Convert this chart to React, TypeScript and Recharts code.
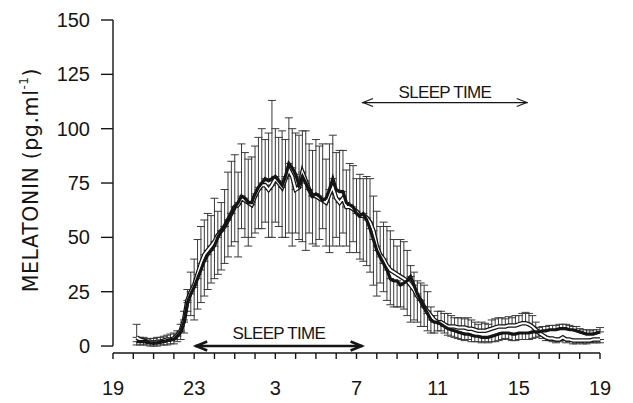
import React from "react";
import { ComposedChart, Line, XAxis, YAxis, ErrorBar, ReferenceLine } from "recharts";

// hours after 19:00, one sample every 10 min starting 20:10
const firstHour = 7 / 6;
const stepHour = 1 / 6;

// filled symbols (thick black line)
const meanFilled = [
  2, 2, 2, 2, 1.5, 1.5, 1.5, 2, 2, 2.5, 3, 3,
  4.5, 6.5, 11, 20, 24, 27, 31, 35, 39, 42, 44, 46,
  50, 53, 55, 58, 61, 64, 66, 69, 68, 66, 66, 70,
  73, 75, 77, 76, 77, 78, 76, 74, 78, 84, 82, 79,
  74, 78, 75, 72, 69, 70, 69, 67, 68, 72, 77, 72,
  71, 71, 66, 65, 64, 61, 60, 61, 58, 54, 49, 44,
  41, 38, 35, 31, 30, 30, 28, 29, 30, 32, 28, 24,
  21, 18, 15, 12, 11, 11, 10, 9, 8, 7.5, 7, 6.5,
  6, 5.5, 5.5, 5, 4.5, 4.5, 4, 4, 4, 4.5, 5, 5.5,
  6, 6, 6, 5.5, 5.5, 6, 6, 6, 6, 6.5, 6.5, 6.5,
  7, 7, 7.5, 7.5, 7.5, 8, 8, 8, 7.5, 7.5, 7, 6.5,
  6, 5.5, 5.5, 5.5, 6, 6.5,
];

// open symbols (white line)
const meanOpen = [
  4, 3, 2.5, 2, 2, 1.5, 2, 2, 2.5, 3, 3, 3.5,
  5, 7, 12, 21, 25, 28, 33, 38, 42, 44, 46, 48,
  51, 53, 55, 58, 61, 64, 65, 68, 67, 66, 65, 69,
  72, 74, 74, 72, 74, 77, 75, 73, 77, 81, 78, 72,
  73, 80, 76, 72, 69, 69, 68, 67, 66, 70, 73, 68,
  66, 68, 64, 64, 63, 62, 60, 60, 59, 57, 53, 46,
  42, 40, 37, 35, 34, 33, 32, 31, 30, 28, 26, 23,
  21, 18, 16, 14, 12, 11, 11, 10, 9, 9, 9, 8.5,
  8.5, 8.5, 8, 8, 7.5, 7, 7, 7, 7.5, 8, 8.5, 9,
  9, 9, 9.5, 9.5, 9.5, 10, 10.5, 10.5, 10, 9, 7.5, 6,
  5, 4, 3.5, 3.5, 3, 3, 4, 3, 3, 2.5, 2.5, 2.5,
  2.5, 2.5, 2.5, 3, 3, 3,
];

const semFilled = [
  1.5, 1.5, 1.5, 1.5, 1.5, 2, 1.5, 2, 1.5, 2, 2.5, 2,
  2.5, 3.5, 5, 4, 10, 15, 14, 15, 16, 16, 15, 15,
  17, 13, 17, 22, 24, 24, 14, 24, 21, 20, 21, 22,
  23, 25, 18, 22, 36, 22, 20, 25, 17, 21, 18, 19,
  23, 30, 31, 21, 21, 25, 23, 26, 18, 21, 20, 17,
  19, 19, 15, 19, 19, 18, 19, 16, 21, 20, 21, 21,
  12, 13, 14, 12, 12, 12, 10, 12, 14, 5, 6, 6,
  8, 10, 8, 6, 5, 5, 3, 3, 3, 3, 3, 3,
  3, 3, 2.5, 3, 2.5, 2.5, 2.5, 2, 2.5, 2.5, 3, 3,
  3, 2.5, 3, 3, 3, 3, 3, 3, 3, 3, 2.5, 2,
  2, 2, 2, 2, 2, 2, 2, 2, 2, 1.5, 2, 1.5,
  1.5, 2, 1.5, 2, 1.5, 2,
];

const semOpen = [
  6, 1, 1.5, 1.5, 1.5, 1.5, 2, 1.5, 2, 2, 2, 2.5,
  2, 3, 4, 5, 9, 12, 16, 17, 16, 17, 14, 20,
  11, 18, 17, 17, 15, 16, 24, 14, 17, 20, 15, 17,
  18, 20, 17, 22, 24, 20, 20, 23, 27, 29, 32, 20,
  24, 19, 23, 20, 22, 23, 19, 13, 20, 27, 27, 18,
  20, 16, 18, 21, 15, 15, 20, 21, 19, 20, 16, 16,
  13, 17, 18, 18, 15, 13, 17, 17, 16, 17, 14, 12,
  12, 9, 9, 4, 2, 4, 5, 5, 6, 5, 4, 4.5,
  4.5, 4, 5, 4, 3.5, 3, 4, 3.5, 2.5, 4, 4, 4,
  4, 3.5, 4, 3.5, 4.5, 4, 4.5, 5, 5, 5, 3.5, 1.5,
  1.5, 1.5, 1, 1.5, 1.5, 1, 1.5, 1.5, 1, 1.5, 1.5, 1,
  1.5, 1.5, 1, 1.5, 1.5, 1.5,
];

const yTicks = [0, 25, 50, 75, 100, 125, 150];
const hourTicks = Array.from({ length: 25 }, (_, i) => i);
const xTickLabels = ["19", "23", "3", "7", "11", "15", "19"];

const sleepLabel = "SLEEP TIME";
const sleepLower = [4.05, 12.3];
const sleepUpper = [12.27, 20.44];

const rows = meanFilled.map((b, i) => ({
  t: firstHour + i * stepHour,
  b,
  w: meanOpen[i],
  be: semFilled[i],
  we: semOpen[i],
}));

// the upper curve of the two carries +SEM, the lower one -SEM
const errFilled = (d: any) => (d.b >= d.w ? [0, d.be] : [d.be, 0]);
const errOpen = (d: any) => (d.w > d.b ? [0, d.we] : [d.we, 0]);

const FONT = "'Liberation Sans', Arial, sans-serif";
const INK = "#151515";

const arrow = (bold: boolean, textGap: number) => (p: any) => {
  const { x1, y1, x2, y2 } = p;
  const sw = bold ? 2.6 : 1.1;
  const hl = bold ? 12 : 11;
  const hh = bold ? 4.5 : 4;
  return (
    <g>
      <line x1={x1} y1={y1} x2={x2} y2={y2} stroke={INK} strokeWidth={sw} />
      <polyline
        points={`${x1 + hl},${y1 - hh} ${x1 + 1},${y1} ${x1 + hl},${y1 + hh}`}
        fill="none"
        stroke={INK}
        strokeWidth={sw}
      />
      <polyline
        points={`${x2 - hl},${y2 - hh} ${x2 - 1},${y2} ${x2 - hl},${y2 + hh}`}
        fill="none"
        stroke={INK}
        strokeWidth={sw}
      />
      <text
        x={(x1 + x2) / 2}
        y={y1 - textGap}
        textAnchor="middle"
        fontFamily={FONT}
        fontSize={17}
        letterSpacing={-0.7}
        fill={INK}
      >
        {sleepLabel}
      </text>
    </g>
  );
};

const YLabel = () => (
  <text
    transform="translate(31,180) rotate(-90)"
    textAnchor="middle"
    dominantBaseline="central"
    fontFamily="'DejaVu Sans', sans-serif"
    fontSize={20.5}
    letterSpacing={0.6}
    fill={INK}
  >
    MELATONIN (pg.ml
    <tspan dy={-7} fontSize={12}>-1</tspan>
    <tspan dy={7}>)</tspan>
  </text>
);

export default function App() {
  return (
    <div style={{ position: "absolute", left: 0, top: 0, background: "#fff" }}>
      <ComposedChart
        width={633}
        height={403}
        data={rows}
        margin={{ top: 20, right: 33, bottom: 10, left: 53 }}
      >
        <XAxis
          dataKey="t"
          type="number"
          domain={[0, 24]}
          ticks={hourTicks}
          interval={0}
          height={40}
          tickSize={6}
          tickMargin={22}
          tickFormatter={(h: number) => (h % 4 === 0 ? xTickLabels[h / 4] : "")}
          stroke={INK}
          axisLine={{ stroke: INK, strokeWidth: 1.4 }}
          tickLine={{ stroke: INK, strokeWidth: 1.4 }}
          tick={{ fill: INK, fontSize: 20, fontFamily: FONT }}
        />
        <YAxis
          type="number"
          domain={[-3.2, 150]}
          ticks={yTicks}
          interval={0}
          width={60}
          axisLine={false}
          tickSize={12}
          tickMargin={11}
          tickLine={{ stroke: INK, strokeWidth: 1.4 }}
          tick={{ fill: INK, fontSize: 20, fontFamily: FONT }}
          label={<YLabel />}
        />
        <ReferenceLine
          segment={[{ x: 0, y: 0 }, { x: 0, y: 150 }]}
          stroke={INK}
          strokeWidth={1.4}
        />
        <Line dataKey="b" stroke="none" dot={false} isAnimationActive={false} legendType="none">
          <ErrorBar dataKey={errFilled} direction="y" width={4} stroke="#3a3a3a" strokeWidth={1} />
        </Line>
        <Line dataKey="w" stroke="none" dot={false} isAnimationActive={false} legendType="none">
          <ErrorBar dataKey={errOpen} direction="y" width={4} stroke="#3a3a3a" strokeWidth={1} />
        </Line>
        <Line dataKey="w" type="linear" stroke={INK} strokeWidth={4.5} dot={false} isAnimationActive={false} />
        <Line dataKey="w" type="linear" stroke="#fff" strokeWidth={2} dot={false} isAnimationActive={false} />
        <Line dataKey="b" type="linear" stroke={INK} strokeWidth={3.2} dot={false} isAnimationActive={false} />
        <ReferenceLine
          segment={[{ x: sleepLower[0], y: 0 }, { x: sleepLower[1], y: 0 }]}
          shape={arrow(true, 7)}
        />
        <ReferenceLine
          segment={[{ x: sleepUpper[0], y: 112 }, { x: sleepUpper[1], y: 112 }]}
          shape={arrow(false, 5)}
        />
      </ComposedChart>
    </div>
  );
}
